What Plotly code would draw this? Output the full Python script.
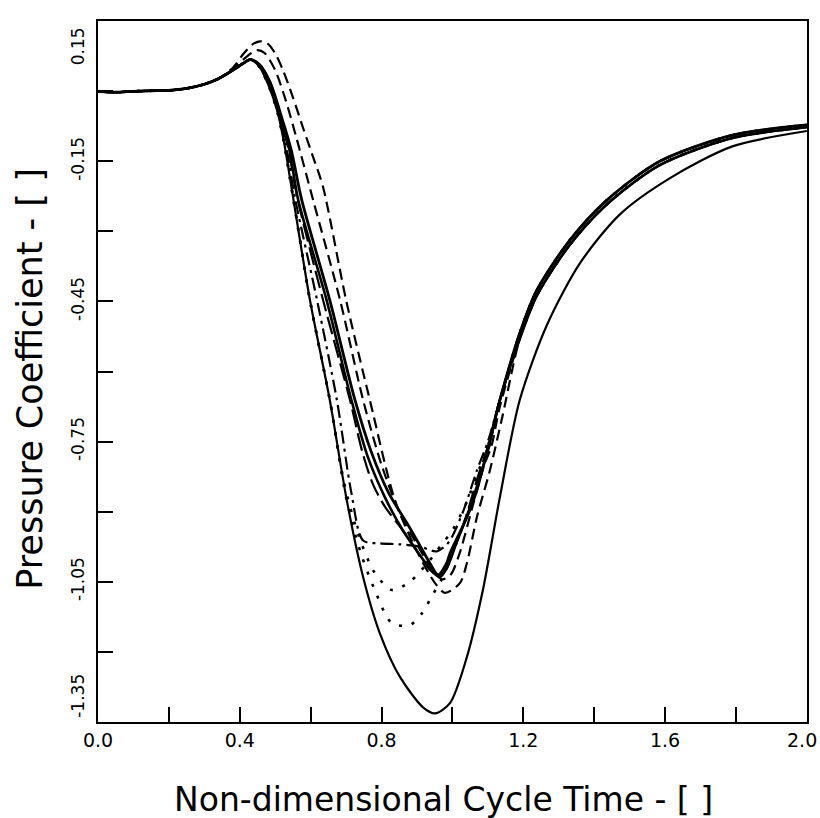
import plotly.graph_objects as go

# ---------------- data ----------------
# shared flat start and rise towards the hump
RISE_X = [0.00, 0.05, 0.10, 0.15, 0.20, 0.25, 0.30, 0.34]
RISE_Y = [0.000, -0.002, 0.000, 0.001, 0.002, 0.006, 0.015, 0.027]

# shared recovery tails
TAIL_X = [1.19, 1.238, 1.331, 1.436, 1.585, 1.79, 2.0]
TAIL_UPPER = [-0.518, -0.426, -0.319, -0.233, -0.150, -0.094, -0.072]
TAIL_LOWER = [-0.530, -0.438, -0.329, -0.242, -0.158, -0.100, -0.077]

# deep solid curve (own recovery)
A_X = [0.38, 0.41, 0.43, 0.455, 0.48, 0.505, 0.525, 0.55, 0.598, 0.654, 0.702, 0.748, 0.795,
       0.852, 0.917, 0.951, 0.993, 1.041, 1.086, 1.134, 1.19, 1.267, 1.36, 1.472, 1.614, 1.79, 2.0]
A_Y = [0.045, 0.060, 0.068, 0.053, 0.015, -0.040, -0.110, -0.225, -0.447, -0.661, -0.876, -1.040, -1.160,
       -1.254, -1.319, -1.332, -1.310, -1.211, -1.068, -0.869, -0.661, -0.500, -0.368, -0.264, -0.186, -0.118, -0.085]

# dotted, lowest of the dotted minima
G_X = [0.38, 0.41, 0.43, 0.455, 0.48, 0.505, 0.525, 0.55, 0.598, 0.654, 0.70, 0.74, 0.781, 0.829,
       0.88, 0.914, 0.942, 0.973, 1.00, 1.035, 1.07, 1.10, 1.134]
G_Y = [0.045, 0.060, 0.068, 0.053, 0.015, -0.040, -0.110, -0.225, -0.447, -0.661, -0.870, -0.985, -1.068, -1.139,
       -1.143, -1.118, -1.081, -1.040, -0.990, -0.920, -0.840, -0.770, -0.661]

# dotted, upper dotted minimum
H_X = [0.38, 0.41, 0.43, 0.455, 0.48, 0.505, 0.525, 0.55, 0.598, 0.654, 0.695, 0.735, 0.78, 0.83,
       0.88, 0.93, 0.97, 1.00, 1.04, 1.07, 1.10, 1.134]
H_Y = [0.045, 0.060, 0.068, 0.053, 0.015, -0.040, -0.110, -0.225, -0.447, -0.661, -0.840, -0.950, -1.030, -1.068,
       -1.050, -1.010, -0.970, -0.940, -0.880, -0.820, -0.760, -0.661]

# dash-dot with flat bottom
I_X = [0.38, 0.41, 0.43, 0.455, 0.48, 0.51, 0.53, 0.557, 0.618, 0.674, 0.715, 0.748, 0.795, 0.85,
       0.908, 0.956, 0.99, 1.03, 1.07, 1.10, 1.134]
I_Y = [0.045, 0.060, 0.068, 0.055, 0.020, -0.050, -0.115, -0.233, -0.447, -0.661, -0.860, -0.962, -0.968, -0.970,
       -0.975, -0.985, -0.965, -0.900, -0.810, -0.750, -0.661]

# long dash
F_X = [0.38, 0.41, 0.43, 0.455, 0.48, 0.51, 0.536, 0.564, 0.635, 0.711, 0.745, 0.775, 0.81, 0.86,
       0.914, 0.937, 0.96, 0.99, 1.03, 1.07, 1.10, 1.134]
F_Y = [0.045, 0.060, 0.068, 0.056, 0.022, -0.045, -0.120, -0.233, -0.447, -0.661, -0.770, -0.840, -0.890, -0.940,
       -1.000, -1.025, -1.035, -1.000, -0.930, -0.830, -0.760, -0.661]

# solid, bundle 1
B_X = [0.38, 0.41, 0.43, 0.455, 0.485, 0.52, 0.545, 0.575, 0.654, 0.725, 0.77, 0.82, 0.872, 0.91,
       0.94, 0.958, 0.975, 0.993, 1.041, 1.069, 1.086, 1.10, 1.134]
B_Y = [0.045, 0.060, 0.068, 0.058, 0.020, -0.060, -0.125, -0.233, -0.447, -0.661, -0.770, -0.860, -0.925, -0.975,
       -1.015, -1.035, -1.030, -0.990, -0.912, -0.854, -0.805, -0.765, -0.661]

# solid, bundle 2
C_X = [0.38, 0.41, 0.43, 0.455, 0.485, 0.515, 0.54, 0.565, 0.645, 0.715, 0.76, 0.81, 0.86, 0.91,
       0.945, 0.965, 0.985, 1.01, 1.05, 1.08, 1.10, 1.134]
C_Y = [0.045, 0.060, 0.068, 0.057, 0.020, -0.055, -0.125, -0.233, -0.447, -0.661, -0.780, -0.870, -0.940, -0.995,
       -1.030, -1.040, -1.020, -0.970, -0.890, -0.820, -0.770, -0.661]

# dashed, lower hump
E_X = [0.38, 0.41, 0.435, 0.45, 0.47, 0.50, 0.53, 0.56, 0.607, 0.683, 0.748, 0.80, 0.85, 0.90,
       0.94, 0.97, 0.995, 1.02, 1.06, 1.09, 1.11, 1.134]
E_Y = [0.048, 0.068, 0.083, 0.088, 0.082, 0.045, -0.020, -0.100, -0.233, -0.447, -0.661, -0.800, -0.900, -0.970,
       -1.020, -1.045, -1.035, -0.990, -0.880, -0.800, -0.760, -0.675]

# dashed, highest hump
D_X = [0.38, 0.41, 0.435, 0.457, 0.477, 0.50, 0.522, 0.55, 0.578, 0.607, 0.635, 0.70, 0.767, 0.838,
       0.90, 0.951, 0.979, 1.021, 1.041, 1.069, 1.106, 1.14]
D_Y = [0.050, 0.080, 0.100, 0.107, 0.103, 0.081, 0.045, -0.013, -0.077, -0.141, -0.205, -0.447, -0.661, -0.876,
       -0.985, -1.053, -1.074, -1.053, -1.010, -0.912, -0.811, -0.700]

SERIES = [
    # name, x, y, tail, dash, width
    ("A", A_X, A_Y, None, "solid", 2.2),
    ("G", G_X, G_Y, TAIL_LOWER, "3px,10px", 2.6),
    ("H", H_X, H_Y, TAIL_UPPER, "3px,10px", 2.6),
    ("I", I_X, I_Y, TAIL_UPPER, "13px,5px,3px,5px", 2.2),
    ("F", F_X, F_Y, TAIL_UPPER, "18px,6px", 2.2),
    ("B", B_X, B_Y, TAIL_UPPER, "solid", 2.8),
    ("C", C_X, C_Y, TAIL_LOWER, "solid", 2.6),
    ("E", E_X, E_Y, TAIL_LOWER, "11px,6px", 2.2),
    ("D", D_X, D_Y, TAIL_LOWER, "11px,6px", 2.2),
]

# axis ticks; the labels at the axis ends are drawn as annotations pulled inward (as in the reference)
X_TICKS = [0.0, 0.2, 0.4, 0.6, 0.8, 1.0, 1.2, 1.4, 1.6, 1.8, 2.0]
X_TICKTEXT = ["0.0", "", "0.4", "", "0.8", "", "1.2", "", "1.6", "", ""]
X_END_LABEL = (2.0, "2.0")
Y_TICKS = [0.15, 0.0, -0.15, -0.30, -0.45, -0.60, -0.75, -0.90, -1.05, -1.20, -1.35]
Y_TICKTEXT = ["", "", "-0.15", "", "-0.45", "", "-0.75", "", "-1.05", "", ""]
Y_END_LABELS = [(0.15, "0.15"), (-1.35, "-1.35")]

# ---------------- figure ----------------
fig = go.Figure()
for name, xs, ys, tail, dash, w in SERIES:
    x_all = RISE_X + xs + (TAIL_X if tail is not None else [])
    y_all = RISE_Y + ys + (tail if tail is not None else [])
    fig.add_trace(go.Scatter(
        x=x_all, y=y_all, mode="lines", name=name,
        line=dict(color="black", width=w, dash=dash, shape="spline", smoothing=0.8),
        showlegend=False, hoverinfo="skip",
    ))

FONT = "DejaVu Sans, Arial, sans-serif"
XT_SIZE = 19
YT_SIZE = 17

annotations = [
    dict(text="Non-dimensional Cycle Time - [ ]", xref="paper", yref="paper",
         x=0.487, y=-0.111, xanchor="center", yanchor="middle", showarrow=False,
         font=dict(size=33, family=FONT, color="black")),
    dict(text="Pressure Coefficient - [ ]", xref="paper", yref="paper",
         x=-0.097, y=0.49, xanchor="center", yanchor="middle", showarrow=False,
         textangle=-90, font=dict(size=35, family=FONT, color="black")),
    dict(text=X_END_LABEL[1], xref="x", yref="paper", x=X_END_LABEL[0], y=0,
         xanchor="right", yanchor="top", xshift=12, yshift=-5, showarrow=False,
         font=dict(size=XT_SIZE, family=FONT, color="black")),
]
for val, txt in Y_END_LABELS:
    top = val > 0
    annotations.append(dict(
        text=txt, xref="paper", yref="y", x=0, y=val,
        xanchor="right", yanchor="top" if top else "bottom",
        xshift=-8, yshift=-4 if top else 2,
        textangle=-90, showarrow=False,
        font=dict(size=YT_SIZE, family=FONT, color="black")))

fig.update_layout(
    width=820, height=818,
    margin=dict(l=98, r=13, t=21, b=96),
    paper_bgcolor="white", plot_bgcolor="white",
    font=dict(family=FONT, color="black"),
    xaxis=dict(
        range=[0, 2.0005], tickvals=X_TICKS, ticktext=X_TICKTEXT,
        ticks="inside", ticklen=15, tickwidth=2, tickcolor="black",
        showline=True, linecolor="black", linewidth=2, mirror=True,
        showgrid=False, zeroline=False, ticklabeloverflow="allow",
        automargin=False,
        tickfont=dict(size=XT_SIZE, family=FONT, color="black"),
    ),
    yaxis=dict(
        range=[-1.3505, 0.1505], tickvals=Y_TICKS, ticktext=Y_TICKTEXT,
        ticks="inside", ticklen=15, tickwidth=2, tickcolor="black",
        showline=True, linecolor="black", linewidth=2, mirror=True,
        showgrid=False, zeroline=False, tickangle=-90,
        ticklabelstandoff=5, ticklabeloverflow="allow",
        automargin=False,
        tickfont=dict(size=YT_SIZE, family=FONT, color="black"),
    ),
    annotations=annotations,
)

fig.write_html("out.html")
